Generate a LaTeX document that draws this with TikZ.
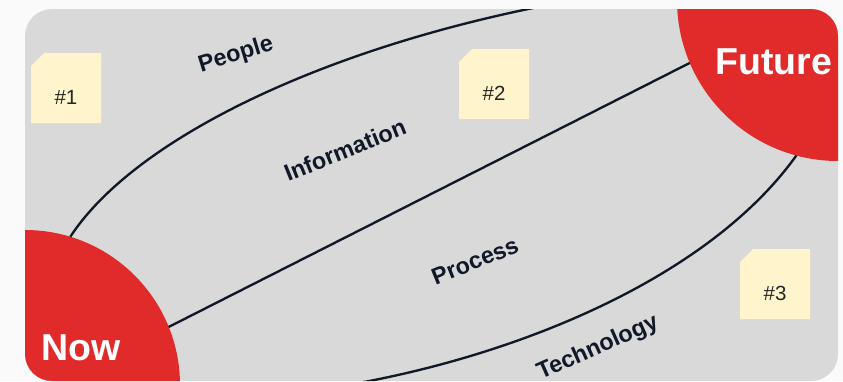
\documentclass[tikz,border=0pt]{standalone}
\usepackage{fontspec}
\setmainfont{Liberation Sans}
\usetikzlibrary{calc}
\definecolor{pagegrey}{HTML}{FAFAFA}
\definecolor{cardgrey}{HTML}{D9D9D9}
\definecolor{bigred}{HTML}{E12B2B}
\definecolor{inkblue}{HTML}{111827}
\definecolor{noteyellow}{HTML}{FFF4CC}
\tikzset{
  streamline/.style={line width=2pt, color=inkblue},
  streamlabel/.style={font=\bfseries\fontsize{20}{24}\selectfont, text=inkblue, inner sep=0pt},
  endpoint/.style={circle, fill=bigred, inner sep=0pt, outer sep=0pt},
  endlabel/.style={font=\bfseries\fontsize{32}{38}\selectfont, text=white, inner sep=0pt},
  notetext/.style={font=\fontsize{17.5}{21}\selectfont, text=black!85, inner sep=0pt},
}
\def\stickynote(#1,#2)#3#4{%
  \fill[noteyellow] (#1,#2+13) -- (#1+13,#2) -- (#1+70,#2) -- (#1+70,#2+70) -- (#1,#2+70) -- cycle;
  \node[notetext] (#3) at (#1+35,#2+44) {#4};}

\begin{document}
\begin{tikzpicture}[x=0.03cm, y=-0.03cm]
		%%%%% START %%%%%
		
		\fill[pagegrey] (0,0) rectangle (843,381);
		\useasboundingbox (0,0) rectangle (843,381);
		\fill[cardgrey, rounded corners=0.81cm] (25,9) rectangle (838,381);
		
		\begin{scope}
			\clip[rounded corners=0.81cm] (25,9) rectangle (838,381);
			
			\node[endpoint, minimum size=9.3cm] (now) at (25,385) {};
			\node[endpoint, minimum size=9.66cm] (future) at (838,0) {};
			
			\coordinate (peopleend) at (625,-8);
			\coordinate (techend) at (300,392);
			
			\draw[streamline] (now.73.6) .. controls (140,130) and (360,30) .. (peopleend);
			\draw[streamline] (now.22.9) -- (future.203.7);
			\draw[streamline] (future.255.9) .. controls (700,290) and (480,370) .. (techend);
			
			\node[endlabel] (nowlabel) at (81,348) {Now};
			\node[endlabel] (futurelabel) at (774,62) {Future};
		\end{scope}
		
		\node[streamlabel, rotate=17] (people) at (236,55) {People};
		\node[streamlabel, rotate=22] (information) at (345,150) {Information};
		\node[streamlabel, rotate=22] (process) at (475,261) {Process};
		\node[streamlabel, rotate=24] (technology) at (598,348) {Technology};
		
		\stickynote(31,53){note1}{\#1}
		\stickynote(459,49){note2}{\#2}
		\stickynote(740,249){note3}{\#3}
		
		%%%%% END %%%%%
\end{tikzpicture}
\end{document}
